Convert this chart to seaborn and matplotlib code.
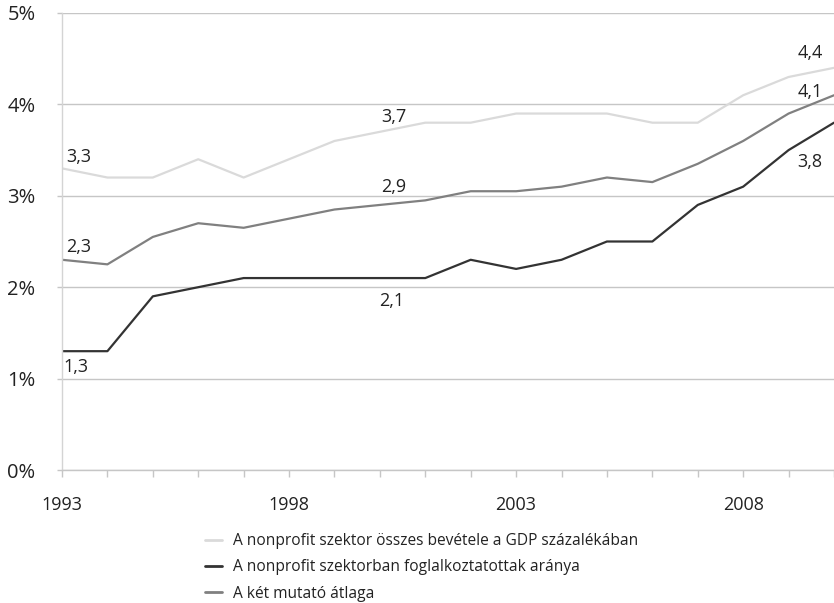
import matplotlib
matplotlib.use("Agg")
import matplotlib.pyplot as plt
import matplotlib.transforms as mtransforms
import seaborn as sns
import pandas as pd

years = list(range(1993, 2011))
bevetel = [3.3, 3.2, 3.2, 3.4, 3.2, 3.4, 3.6, 3.7, 3.8, 3.8, 3.9, 3.9, 3.9, 3.8, 3.8, 4.1, 4.3, 4.4]
foglalkoztatott = [1.3, 1.3, 1.9, 2.0, 2.1, 2.1, 2.1, 2.1, 2.1, 2.3, 2.2, 2.3, 2.5, 2.5, 2.9, 3.1, 3.5, 3.8]
atlag = [2.3, 2.25, 2.55, 2.7, 2.65, 2.75, 2.85, 2.9, 2.95, 3.05, 3.05, 3.1, 3.2, 3.15, 3.35, 3.6, 3.9, 4.1]

series_names = [
    "A nonprofit szektor összes bevétele a GDP százalékában",
    "A nonprofit szektorban foglalkoztatottak aránya",
    "A két mutató átlaga",
]
series_values = [bevetel, foglalkoztatott, atlag]
series_colors = ["#dadada", "#333333", "#808080"]

year_ticks = [1993, 1998, 2003, 2008]
y_ticks = [0, 1, 2, 3, 4, 5]

# (series index, year, label offset in pixels)
value_labels = [
    (0, 1993, (17, 11)), (0, 2000, (14, 15)), (0, 2010, (-24, 15)),
    (2, 1993, (17, 13)), (2, 2000, (14, 18)), (2, 2010, (-24, 3)),
    (1, 1993, (14, -16)), (1, 2000, (12, -23)), (1, 2010, (-24, -39)),
]

df = pd.concat(
    [pd.DataFrame({"év": years, "érték": vals, "sorozat": name})
     for name, vals in zip(series_names, series_values)],
    ignore_index=True,
)

sns.set_theme(style="white")
plt.rcParams["font.family"] = ["Open Sans", "DejaVu Sans"]

fig = plt.figure(figsize=(8.34, 6.03), dpi=100)
ax = fig.add_axes([62 / 834, 1 - 470 / 603, 1 - 62 / 834, (470 - 13) / 603])

sns.lineplot(
    data=df, x="év", y="érték", hue="sorozat", hue_order=series_names,
    palette=series_colors, linewidth=1.6, ax=ax, legend=True,
)

ax.set_xlim(1993, 2010)
ax.set_ylim(0, 5)
ax.set_yticks(y_ticks)
ax.set_yticklabels([f"{v}%" for v in y_ticks], fontsize=14.5, color="#222222")
ax.set_xticks(years)
ax.set_xticklabels([str(y) if y in year_ticks else "" for y in years],
                   fontsize=13, color="#222222")
ax.set_xlabel("")
ax.set_ylabel("")

# nudge the percentage labels slightly below their gridlines
shift = mtransforms.ScaledTranslation(0, -3 / 100, fig.dpi_scale_trans)
for lbl in ax.get_yticklabels():
    lbl.set_transform(lbl.get_transform() + shift)

ax.grid(axis="y", color="#c6c6c6", linewidth=1)
ax.set_axisbelow(True)
ax.tick_params(axis="y", length=3.6, width=1, color="#c6c6c6", pad=15.5, left=True)
ax.tick_params(axis="x", length=5, width=1, color="#c6c6c6", pad=14, bottom=True)
for side in ["top", "right"]:
    ax.spines[side].set_visible(False)
ax.spines["left"].set_color("#d4d4d4")
ax.spines["left"].set_linewidth(1)
ax.spines["bottom"].set_color("#c6c6c6")
ax.spines["bottom"].set_linewidth(1)

for idx, year, (dx, dy) in value_labels:
    val = series_values[idx][years.index(year)]
    ax.annotate(
        f"{val:.1f}".replace(".", ","), xy=(year, val), xytext=(dx, dy),
        textcoords="offset pixels", ha="center", va="center",
        fontsize=13, color="#222222", annotation_clip=False,
    )

handles, labels = ax.get_legend_handles_labels()
ax.legend(
    handles, labels, loc="upper left", bbox_to_anchor=(205 / 834, 1 - 533 / 603),
    bbox_transform=fig.transFigure, frameon=False, fontsize=11.2,
    handlelength=1.1, handletextpad=0.7, labelspacing=0.66, borderaxespad=0,
    borderpad=0, labelcolor="#222222",
)
for line in ax.get_legend().get_lines():
    line.set_linewidth(2)

fig.savefig("out.png", dpi=100)
